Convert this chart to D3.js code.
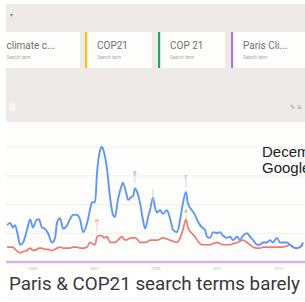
<!DOCTYPE html>
<html><head><meta charset="utf-8">
<script src="https://cdn.jsdelivr.net/npm/d3@7/dist/d3.min.js"></script>
<style>
html,body{margin:0;padding:0;background:#fff;overflow:hidden}
svg{display:block}
</style></head>
<body>
<script>
// ---- data ----
const searchTerms = ["climate c...", "COP21", "COP 21", "Paris Cli..."];
const termColors = ["#4285f4", "#f4c20d", "#1fa463", "#ab7ad1"];
const dates = [
 2004.19,2004.29,2004.38,2004.45,2004.55,2004.61,2004.71,2004.84,2004.94,2005.03,
 2005.16,2005.23,2005.32,2005.42,2005.52,2005.65,2005.75,2005.81,2005.91,2006.01,
 2006.14,2006.23,2006.33,2006.46,2006.56,2006.66,2006.79,2006.88,2006.95,2007.05,
 2007.11,2007.21,2007.27,2007.34,2007.44,2007.53,2007.63,2007.69,2007.79,2007.92,
 2007.95,2008.05,2008.12,2008.25,2008.28,2008.34,2008.41,2008.51,2008.60,2008.67,
 2008.77,2008.83,2008.93,2008.99,2009.06,2009.16,2009.25,2009.38,2009.48,2009.58,
 2009.71,2009.81,2009.90,2010.00,2010.06,2010.19,2010.29,2010.39,2010.52,2010.62,
 2010.68,2010.78,2010.88,2011.01,2011.10,2011.20,2011.33,2011.43,2011.53,2011.66,
 2011.75,2011.85,2011.98,2012.08,2012.18,2012.31,2012.40,2012.50,2012.63,2012.73,
 2012.82,2012.95,2013.05,2013.15,2013.28,2013.38,2013.47,2013.60,2013.70,2013.80];
const climateChange = [
 32,34,30,32,22,15,17,28,37,30,
 37,37,30,29,25,17,21,34,38,29,
 32,37,41,41,37,26,34,45,52,52,
 77,97,100,95,80,57,41,39,54,67,
 69,61,54,57,57,64,61,51,37,29,
 39,45,56,48,43,45,42,45,38,28,
 26,37,51,61,51,45,41,35,30,28,
 22,21,26,25,26,23,21,22,19,22,
 19,23,25,22,19,15,15,17,17,19,
 17,21,17,17,17,15,13,12,13,17];
const cop21Red = [
 13,13,13,11,9,8,9,10,12,10,
 11,12,12,11,11,10,11,12,13,12,
 12,12,13,13,12,12,13,17,16,15,
 22,23,23,21,22,17,17,17,19,22,
 21,19,20,21,21,21,20,17,17,17,
 18,19,19,19,19,20,21,20,19,18,
 17,21,28,37,30,25,22,18,15,15,
 15,15,16,17,16,15,15,15,16,17,
 18,19,17,15,13,12,12,13,13,13,
 13,13,13,13,14,15,13,12,13,15];
const parisDates = [2004.0, 2013.9];
const parisValues = [0, 0];
const yearTicks = [2005, 2007, 2009, 2011, 2013];
const flags = [
 {date: 2007.11, value: 34, label: "H", color: "#e57368"},
 {date: 2008.34, value: 76, label: "B", color: "#7aa3ee"},
 {date: 2008.93, value: 60, label: "I", color: "#aaa"},
 {date: 2010.00, value: 72, label: "F", color: "#7aa3ee"},
 {date: 2010.00, value: 43, label: "A", color: "#e57368"}
];
const caption = "Paris & COP21 search terms barely";
const overlay = ["December", "Google"];

// ---- drawing ----
const W = 305, H = 302;
const svg = d3.select("body").append("svg").attr("width", W).attr("height", H);

// top gray panel
svg.append("rect").attr("x", 6).attr("y", 4).attr("width", W - 6).attr("height", 118).attr("fill", "#eeeae8");
svg.append("text").attr("x", 10).attr("y", 17).attr("font-size", 6).attr("fill", "#888")
  .attr("font-family", "DejaVu Sans").text("▾");

// cards
const cards = [
  {x: 6, w: 74, border: false},
  {x: 85, w: 67, border: true},
  {x: 158, w: 67, border: true},
  {x: 231, w: 74, border: true}
];
cards.forEach((c, i) => {
  svg.append("rect").attr("x", c.x).attr("y", 32).attr("width", c.w).attr("height", 36).attr("fill", "#fdfdfc");
  if (c.border) svg.append("rect").attr("x", c.x).attr("y", 32).attr("width", 2.2).attr("height", 36).attr("fill", termColors[i]);
  const tx = c.border ? c.x + 12 : c.x + 0.5;
  svg.append("text").attr("x", tx).attr("y", 49).attr("font-size", 10).attr("fill", "#707070")
    .attr("font-family", "Roboto, sans-serif").text(searchTerms[i]);
  svg.append("text").attr("x", tx).attr("y", 59).attr("font-size", 4.5).attr("fill", "#aaa")
    .attr("font-family", "Roboto, sans-serif").text("Search term");
});

// small icons
svg.append("rect").attr("x", 9).attr("y", 103).attr("width", 7).attr("height", 8).attr("rx", 1.5).attr("fill", "#f7f5f4");
svg.append("text").attr("x", 290).attr("y", 109).attr("font-size", 6).attr("fill", "#999")
  .attr("font-family", "DejaVu Sans").text("✎ ≡");

// chart area
svg.append("rect").attr("x", 6).attr("y", 122).attr("width", W - 6).attr("height", 150).attr("fill", "#fdfdfc");

const x = d3.scaleLinear().domain([2005, 2013]).range([32, 32 + 8 * 30.8]);
const y = d3.scaleLinear().domain([0, 100]).range([262, 147]);

svg.append("defs").append("clipPath").attr("id", "clip")
  .append("rect").attr("x", 6).attr("y", 122).attr("width", W - 6).attr("height", 150);

const g = svg.append("g").attr("clip-path", "url(#clip)");

// faint gridlines
g.selectAll("line.grid").data([25, 50, 75, 100]).join("line").attr("class", "grid")
  .attr("x1", 6).attr("x2", W).attr("y1", d => y(d)).attr("y2", d => y(d))
  .attr("stroke", "#f1f0ef").attr("stroke-width", 1);

const line = d3.line().x(d => x(d[0])).y(d => y(d[1])).curve(d3.curveMonotoneX);

g.append("path").datum(d3.zip(parisDates, parisValues)).attr("d", line)
  .attr("fill", "none").attr("stroke", "#d3b4e3").attr("stroke-width", 2.6);

g.append("path").datum(d3.zip(dates, cop21Red)).attr("d", line)
  .attr("fill", "none").attr("stroke", "#ec7a70").attr("stroke-width", 1.7);

g.append("path").datum(d3.zip(dates, climateChange)).attr("d", line)
  .attr("fill", "none").attr("stroke", "#6396f2").attr("stroke-width", 1.9);

// annotation flags
flags.forEach(f => {
  const fx = x(f.date), fy = y(f.value);
  g.append("line").attr("x1", fx).attr("x2", fx).attr("y1", fy).attr("y2", fy + 8)
    .attr("stroke", "#ccc").attr("stroke-width", 0.8);
  g.append("text").attr("x", fx).attr("y", fy).attr("text-anchor", "middle")
    .attr("font-size", 5).attr("font-family", "Roboto, sans-serif").attr("fill", f.color).text(f.label);
});

// x axis labels
const axis = d3.axisBottom(x).tickValues(yearTicks).tickSize(0).tickFormat(d3.format("d"));
const ax = svg.append("g").attr("transform", "translate(0,265)").call(axis);
ax.select(".domain").remove();
ax.selectAll("text").attr("font-size", 4).attr("fill", "#bbb").attr("font-family", "Roboto, sans-serif").attr("dy", "0.5em");

// overlay text (cut off at the right edge, as in the reference)
overlay.forEach((t, i) => {
  svg.append("text").attr("x", 262).attr("y", 157 + i * 15.5).attr("font-size", 15)
    .attr("font-family", "Liberation Sans, Arial, sans-serif").attr("fill", "#222").text(t);
});

// caption
svg.append("text").attr("x", 9).attr("y", 290).attr("font-size", 17.5)
  .attr("font-family", "Roboto, sans-serif").attr("font-weight", 400).attr("fill", "#383838")
  .attr("textLength", 291).attr("lengthAdjust", "spacingAndGlyphs").text(caption);

svg.append("line").attr("x1", 6).attr("x2", W).attr("y1", 299).attr("y2", 299)
  .attr("stroke", "#eee").attr("stroke-width", 1);
</script>
</body></html>
